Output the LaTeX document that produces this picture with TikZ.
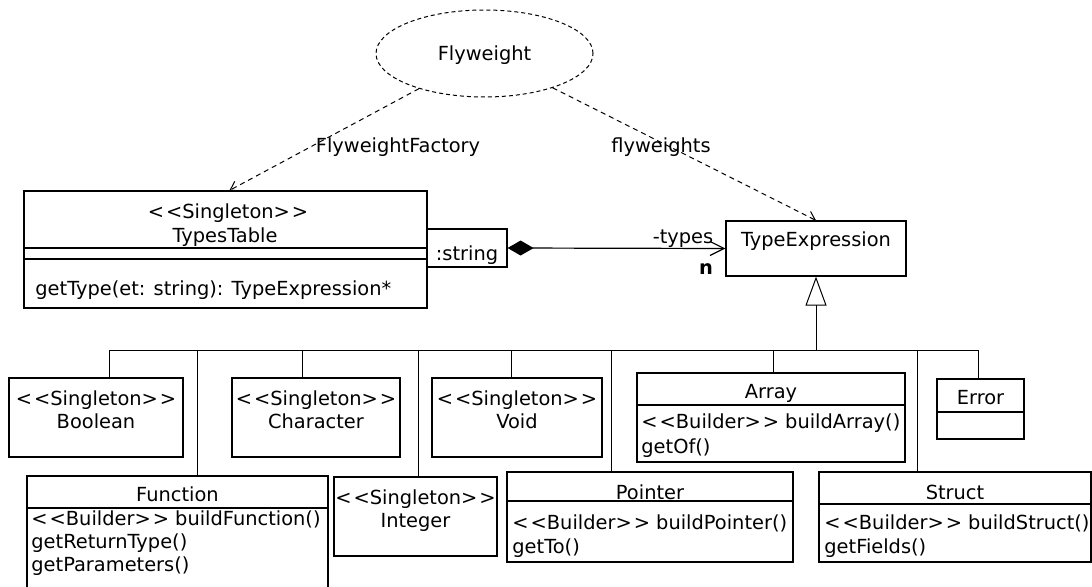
\documentclass[tikz,border=0pt]{standalone}
\usepackage{fontspec}
\setmainfont{DejaVu Sans}
\usetikzlibrary{arrows.meta}
\usetikzlibrary{fit,shapes.geometric}

\newcommand{\stereo}[1]{<\kern1pt<#1>\kern1pt>}

\tikzset{
  cls/.style={draw, line width=0.6pt, inner sep=0pt},
  txt/.style={inner sep=0pt, text height=7.5pt, text depth=0pt, font=\fontsize{9.7}{11}\selectfont},
  meth/.style={txt, anchor=west},
  dep/.style={line width=0.5pt, dash pattern=on 2.5pt off 2pt, -{Straight Barb[length=4pt,width=5.5pt]}},
  comp/.style={line width=0.6pt, {Diamond[length=13pt,width=7.5pt]}-{Straight Barb[length=7pt,width=7pt]}},
  inh/.style={line width=0.5pt, -{Triangle[open,length=14.5pt,width=10.5pt]}},
  tree/.style={line width=0.5pt},
}

\begin{document}
\begin{tikzpicture}[x=0.5pt, y=-0.5pt]
                \path[use as bounding box, clip] (0,0) rectangle (1092,587);
                % pattern
                \node[ellipse, draw, line width=0.5pt, dash pattern=on 2pt off 1.5pt, minimum width=108.5pt, minimum height=43.5pt, txt] (fly) at (484.5,53.5) {Flyweight};
                % class boxes
                \node[cls, fit={(24,191) (427,308)}] (tbl) {};
                \node[cls, fit={(427,229) (507,267)}] (key) {};
                \node[cls, fit={(726,221) (906,276)}] (texpr) {};
                \node[cls, fit={(9,378) (183,457)}] (bool) {};
                \node[cls, fit={(232,378) (400,457)}] (chr) {};
                \node[cls, fit={(432,378) (602,457)}] (void) {};
                \node[cls, fit={(637,373) (905,462)}] (arr) {};
                \node[cls, fit={(937,379) (1024,439)}] (err) {};
                \node[cls, fit={(27,476) (328,600)}] (fun) {};
                \node[cls, fit={(334,477) (497,556)}] (int) {};
                \node[cls, fit={(507,472) (793,562)}] (ptr) {};
                \node[cls, fit={(819,472) (1091,562)}] (strc) {};
                \foreach \n/\y in {tbl/248, tbl/259, arr/405, err/412, fun/508, ptr/501, strc/504}
                    \draw[line width=0.6pt] (\n.west |- 0,\y) -- (\n.east |- 0,\y);
                % texts
                \node[txt] (tblS) at (228,211) {\stereo{Singleton}};
                \node[txt] (tblN) at (225,235) {TypesTable};
                \node[meth] (tblM) at (35,288) {getType(et: string): TypeExpression*};
                \node[txt] (keyN) at (467,253) {:string};
                \node[txt] (texprN) at (816,239) {TypeExpression};
                \node[txt] (boolS) at (96,398) {\stereo{Singleton}};
                \node[txt] (boolN) at (96,421.5) {Boolean};
                \node[txt] (chrS) at (316,398) {\stereo{Singleton}};
                \node[txt] (chrN) at (316,421.5) {Character};
                \node[txt] (voidS) at (517,398) {\stereo{Singleton}};
                \node[txt] (voidN) at (517,421.5) {Void};
                \node[txt] (intS) at (415.5,497) {\stereo{Singleton}};
                \node[txt] (intN) at (415.5,520) {Integer};
                \node[txt] (arrN) at (771,391.5) {Array};
                \node[meth] (arrA) at (641,421.5) {\stereo{Builder} buildArray()};
                \node[meth] (arrB) at (641,446) {getOf()};
                \node[txt] (errN) at (980.5,397) {Error};
                \node[txt] (funN) at (177.5,494) {Function};
                \node[meth] (funA) at (31,518) {\stereo{Builder} buildFunction()};
                \node[meth] (funB) at (31,540.5) {getReturnType()};
                \node[meth] (funC) at (31,563.5) {getParameters()};
                \node[txt] (ptrN) at (650,491.5) {Pointer};
                \node[meth] (ptrA) at (512,521.5) {\stereo{Builder} buildPointer()};
                \node[meth] (ptrB) at (512,546) {getTo()};
                \node[txt] (strcN) at (955,491.5) {Struct};
                \node[meth] (strcA) at (824,521.5) {\stereo{Builder} buildStruct()};
                \node[meth] (strcB) at (824,546) {getFields()};
                % connectors
                \draw[dep] (fly) -- ([xshift=2pt]tbl.north);
                \draw[dep] (fly) -- (texpr.north);
                \node[txt] (ffLbl) at (398,145) {FlyweightFactory};
                \node[txt] (fwLbl) at (661,145) {flyweights};
                \draw[comp] (key.east) -- (texpr.west);
                \node[txt] (typesLbl) at (683,236) {-types};
                \node[txt, font=\fontsize{9.7}{11}\selectfont\bfseries] (nLbl) at (706,267) {n};
                \coordinate (bus) at (816,351);
                \draw[inh] (bus) -- (texpr.south);
                \foreach \n/\dx in {bool/13, chr/-14, void/-6, arr/2, err/-2.5, fun/19.5, int/2.5, ptr/-39, strc/-38}
                    \draw[tree] ([xshift=\dx*0.5pt]\n.north) |- (bus);
            \end{tikzpicture}
\end{document}
